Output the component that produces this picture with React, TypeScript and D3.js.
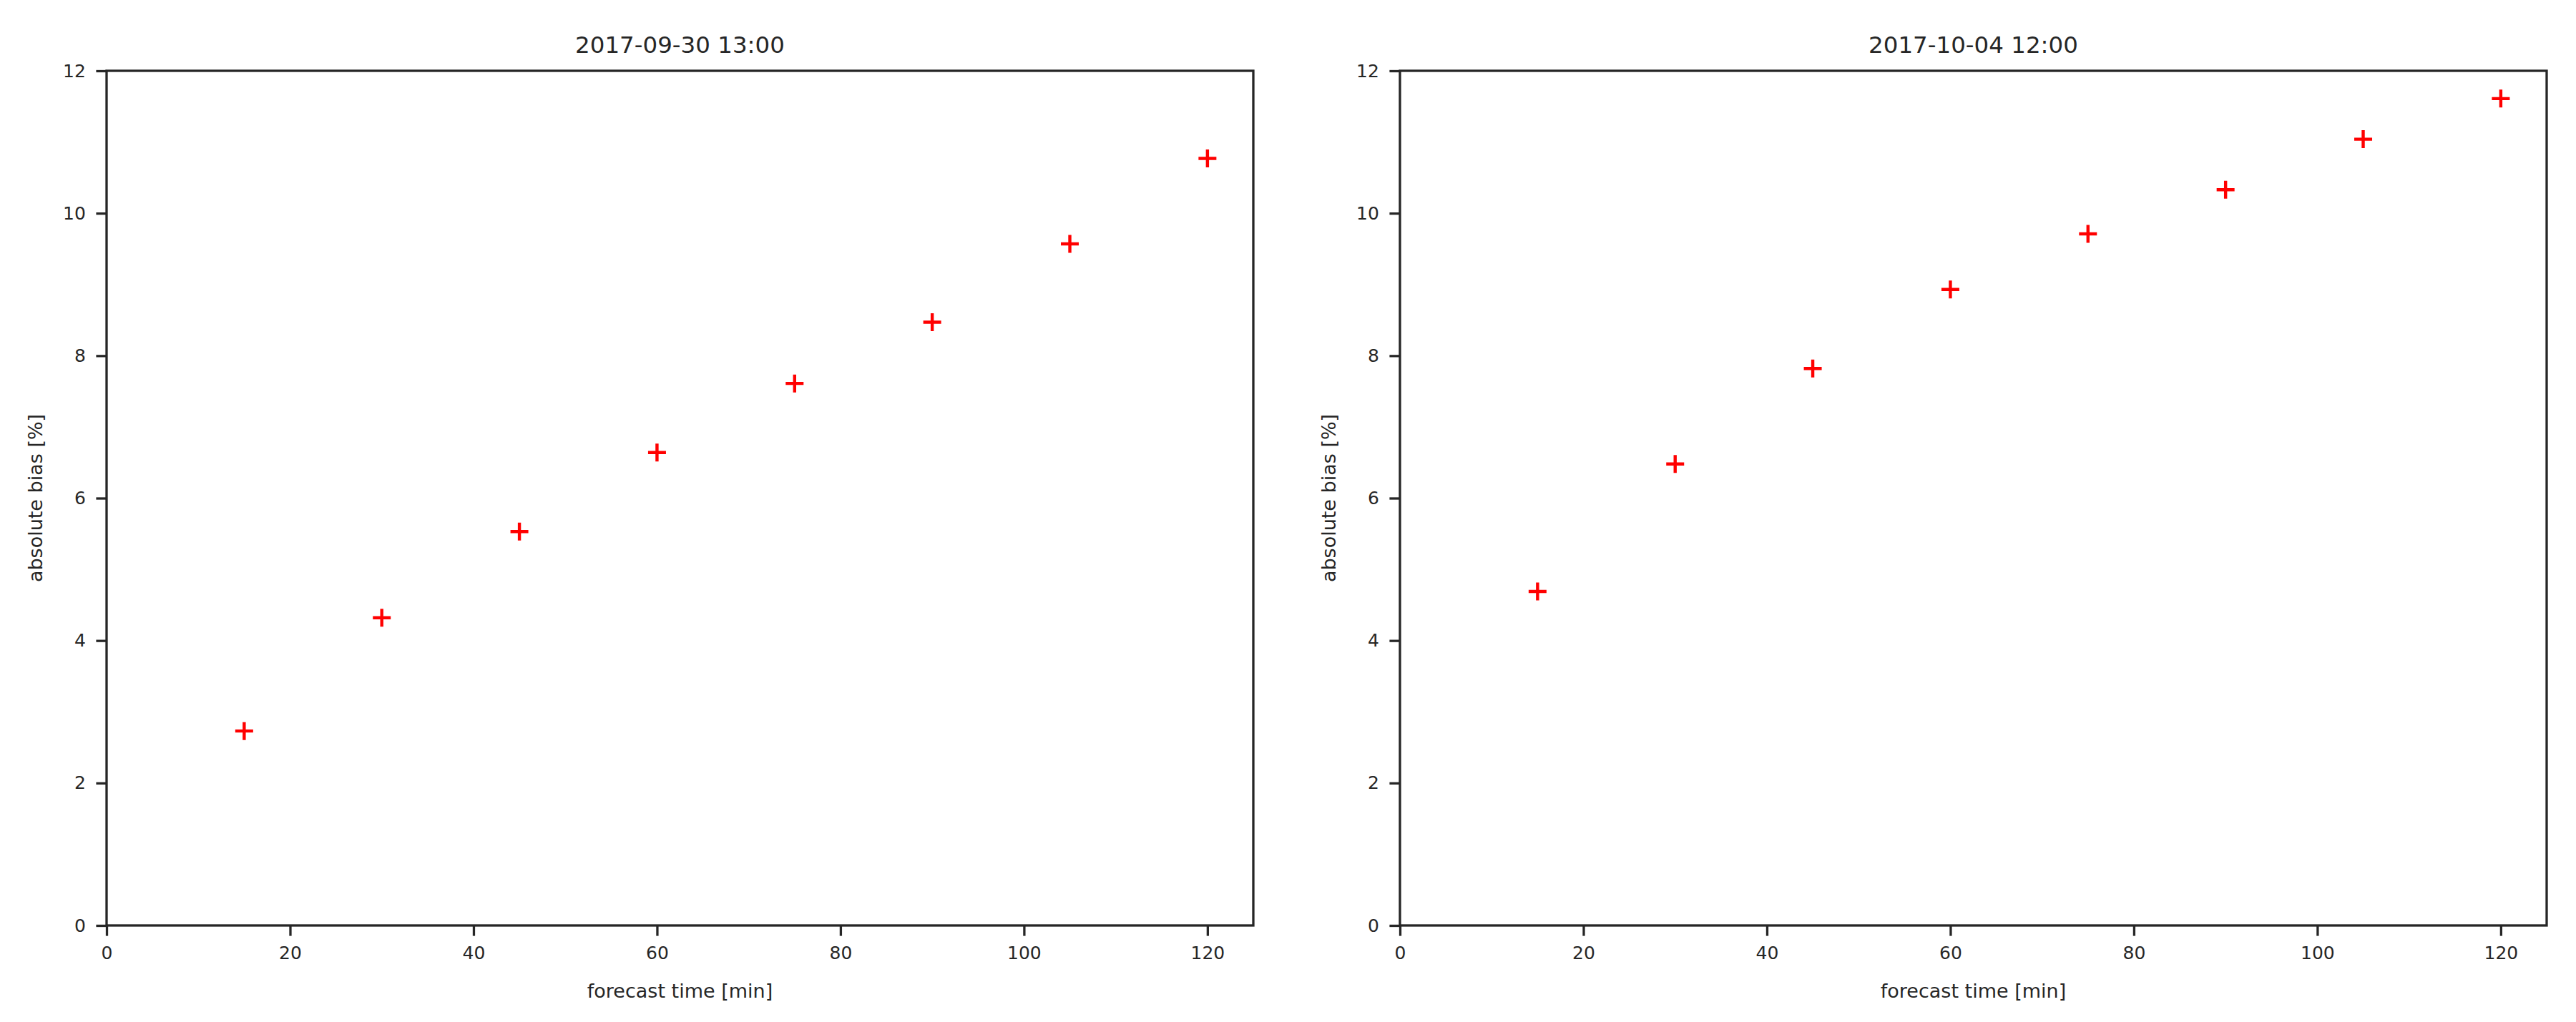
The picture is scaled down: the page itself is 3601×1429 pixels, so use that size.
import { useEffect, useRef } from "react";
import * as d3 from "d3";

const WIDTH = 3601;
const HEIGHT = 1429;
const INK = "#262626";
const FONT = "DejaVu Sans, Liberation Sans, sans-serif";

// panel frames in figure pixels (matplotlib axes boxes)
const PANEL_W = 1603;
const PANEL_H = 1195;
const PANEL_TOP = 99;
const PANEL_LEFTS = [149, 1957];

const TITLES = ["2017-09-30 13:00", "2017-10-04 12:00"];
const X_LABEL = "forecast time [min]";
const Y_LABEL = "absolute bias [%]";

const forecastMinutes = [15, 30, 45, 60, 75, 90, 105, 120];
const biasSep30 = [2.73, 4.32, 5.53, 6.64, 7.61, 8.47, 9.57, 10.77];
const biasOct04 = [4.69, 6.48, 7.82, 8.93, 9.71, 10.33, 11.04, 11.61];
const SERIES = [biasSep30, biasOct04];

const xTicks = [0, 20, 40, 60, 80, 100, 120];
const yTicks = [0, 2, 4, 6, 8, 10, 12];

const TICK_LEN = 14.6;
const TICK_PAD = 14.6;
const LINE_W = 3.3;

const Panel = ({ left, title, values }) => {
  const xAxisRef = useRef(null);
  const yAxisRef = useRef(null);

  const xScale = d3.scaleLinear().domain([0, 125]).range([0, PANEL_W]);
  const yScale = d3.scaleLinear().domain([0, 12]).range([PANEL_H, 0]);

  useEffect(() => {
    const styleAxis = (g) => {
      g.select(".domain").remove();
      g.selectAll(".tick line").attr("stroke", INK).attr("stroke-width", LINE_W);
      g.selectAll(".tick text")
        .attr("fill", INK)
        .style("font-family", FONT)
        .style("font-size", "25px");
    };

    const xg = d3.select(xAxisRef.current);
    xg.selectAll("*").remove();
    xg.call(
      d3.axisBottom(xScale).tickValues(xTicks).tickSize(TICK_LEN).tickPadding(TICK_PAD).tickSizeOuter(0)
    ).call(styleAxis);

    const yg = d3.select(yAxisRef.current);
    yg.selectAll("*").remove();
    yg.call(
      d3.axisLeft(yScale).tickValues(yTicks).tickSize(TICK_LEN).tickPadding(TICK_PAD).tickSizeOuter(0)
    ).call(styleAxis);
  }, []);

  const half = 12.5; // marker half-size

  return (
    <g transform={`translate(${left},${PANEL_TOP})`}>
      <text
        x={PANEL_W / 2}
        y={-25}
        textAnchor="middle"
        fill={INK}
        style={{ fontFamily: FONT, fontSize: "32.5px" }}
      >
        {title}
      </text>

      {values.map((v, i) => {
        const cx = xScale(forecastMinutes[i]);
        const cy = yScale(v);
        return (
          <path
            key={i}
            d={`M${cx - half},${cy}H${cx + half}M${cx},${cy - half}V${cy + half}`}
            stroke="#ff0000"
            strokeWidth={4.4}
            fill="none"
          />
        );
      })}

      <rect
        x={0}
        y={0}
        width={PANEL_W}
        height={PANEL_H}
        fill="none"
        stroke={INK}
        strokeWidth={LINE_W}
      />
      <g ref={xAxisRef} transform={`translate(0,${PANEL_H})`} />
      <g ref={yAxisRef} />

      <text
        x={PANEL_W / 2}
        y={PANEL_H + 101}
        textAnchor="middle"
        fill={INK}
        style={{ fontFamily: FONT, fontSize: "27px" }}
      >
        {X_LABEL}
      </text>
      <text
        transform={`translate(${-90},${PANEL_H / 2}) rotate(-90)`}
        textAnchor="middle"
        fill={INK}
        style={{ fontFamily: FONT, fontSize: "27px" }}
      >
        {Y_LABEL}
      </text>
    </g>
  );
};

export default function App() {
  return (
    <svg
      width={WIDTH}
      height={HEIGHT}
      style={{ position: "absolute", left: 0, top: 0, background: "#ffffff" }}
    >
      <rect width={WIDTH} height={HEIGHT} fill="#ffffff" />
      {PANEL_LEFTS.map((left, i) => (
        <Panel key={i} left={left} title={TITLES[i]} values={SERIES[i]} />
      ))}
    </svg>
  );
}
